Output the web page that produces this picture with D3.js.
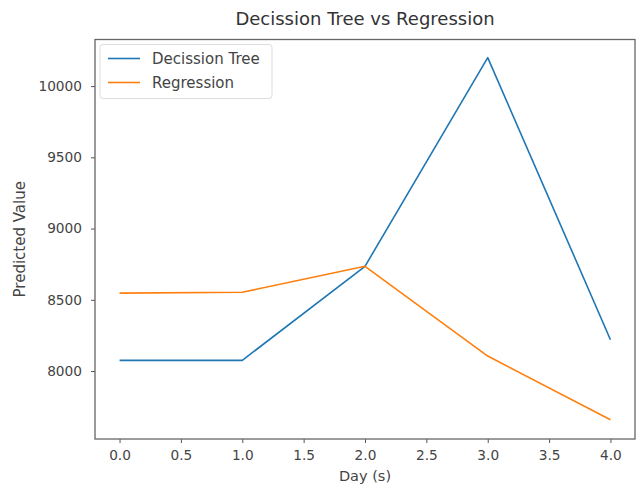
<!DOCTYPE html>
<html>
<head>
<meta charset="utf-8">
<script src="https://cdn.jsdelivr.net/npm/d3@7"></script>
<style>
  body { margin: 0; background: #fff; }
  svg { display: block; font-family: "DejaVu Sans", sans-serif; }
</style>
</head>
<body>
<div id="chart"></div>
<script>
// data
var days = [0, 1, 2, 3, 4];
var treeVals = [8075, 8075, 8735, 10200, 8220];
var regVals = [8547, 8553, 8735, 8105, 7658];
var xTicks = [0, 0.5, 1, 1.5, 2, 2.5, 3, 3.5, 4];
var yTicks = [8000, 8500, 9000, 9500, 10000];
var seriesNames = ["Decission Tree", "Regression"];

const width = 640,
    height = 486,
    colors = ["#1f77b4", "#ff7f0e"];

// plot frame
const pLeft = 95, pRight = 635, pTop = 39.5, pBottom = 439;

var svg = d3.select("#chart").append("svg")
    .attr("width", width)
    .attr("height", height);

var x = d3.scaleLinear().domain([-0.2, 4.2]).range([pLeft, pRight]);
var y = d3.scaleLinear().domain([7523, 10327]).range([pBottom, pTop]);

// title
svg.append("text")
    .attr("x", (pLeft + pRight) / 2)
    .attr("y", 25)
    .attr("text-anchor", "middle")
    .style("font-size", "18px")
    .style("fill", "#333")
    .text("Decission Tree vs Regression");

// axes
var xAxis = svg.append("g")
    .attr("transform", "translate(0," + pBottom + ")")
    .call(d3.axisBottom(x).tickValues(xTicks).tickFormat(d3.format(".1f")).tickSizeOuter(0).tickSize(4).tickPadding(7));
var yAxis = svg.append("g")
    .attr("transform", "translate(" + pLeft + ",0)")
    .call(d3.axisLeft(y).tickValues(yTicks).tickFormat(d3.format("d")).tickSizeOuter(0).tickSize(4).tickPadding(9));

[xAxis, yAxis].forEach(function(ax) {
    ax.select(".domain").remove();
    ax.selectAll("line").attr("stroke", "#555");
    ax.selectAll("text").style("font-size", "13.7px").style("fill", "#444").attr("font-family", "DejaVu Sans");
});

// frame
svg.append("rect")
    .attr("x", pLeft).attr("y", pTop)
    .attr("width", pRight - pLeft).attr("height", pBottom - pTop)
    .attr("fill", "none")
    .attr("stroke", "#666")
    .attr("stroke-width", 1.3);

// axis labels
svg.append("text")
    .attr("x", (pLeft + pRight) / 2)
    .attr("y", 481)
    .attr("text-anchor", "middle")
    .style("font-size", "14.5px")
    .style("fill", "#444")
    .text("Day (s)");
svg.append("text")
    .attr("transform", "translate(25," + ((pTop + pBottom) / 2) + ") rotate(-90)")
    .attr("text-anchor", "middle")
    .style("font-size", "15px")
    .style("fill", "#444")
    .text("Predicted Value");

// lines
var line = d3.line()
    .x(function(d, i) { return x(days[i]); })
    .y(function(d) { return y(d); });

[treeVals, regVals].forEach(function(vals, i) {
    svg.append("path")
        .datum(vals)
        .attr("d", line)
        .attr("fill", "none")
        .attr("stroke", colors[i])
        .attr("stroke-width", 1.6)
        .attr("stroke-linejoin", "round");
});

// legend
var legend = svg.append("g").attr("transform", "translate(" + (pLeft + 5) + "," + (pTop + 5) + ")");
legend.append("rect")
    .attr("width", 172).attr("height", 54)
    .attr("rx", 3)
    .attr("fill", "#fff")
    .attr("fill-opacity", 0.8)
    .attr("stroke", "#ddd");
seriesNames.forEach(function(name, i) {
    var ly = 14 + i * 24;
    legend.append("line")
        .attr("x1", 8).attr("x2", 40)
        .attr("y1", ly).attr("y2", ly)
        .attr("stroke", colors[i])
        .attr("stroke-width", 1.6);
    legend.append("text")
        .attr("x", 52).attr("y", ly + 5)
        .style("font-size", "15px")
        .style("fill", "#444")
        .text(name);
});
</script>
</body>
</html>
